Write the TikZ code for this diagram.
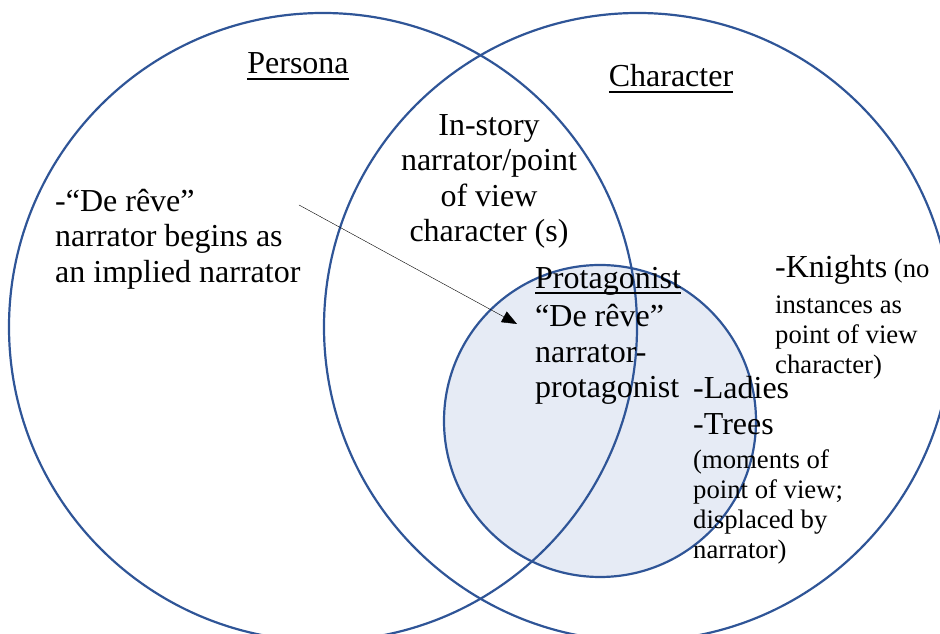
\documentclass[tikz,border=0pt]{standalone}
\usepackage{fontspec}
\setmainfont{Liberation Serif}
\usetikzlibrary{arrows.meta}
\definecolor{vennblue}{HTML}{2F5597}
\definecolor{vennfill}{HTML}{E6EBF5}
\newcommand{\bigtxt}{\fontsize{32}{35.5}\selectfont}
\newcommand{\smalltxt}{\fontsize{26.7}{30}\selectfont}
\newcommand{\thickul}[1]{\setbox0=\hbox{#1}\rlap{\rule[-6pt]{\wd0}{2pt}}\box0}

\begin{document}
\begin{tikzpicture}[x=1pt,y=1pt,
  ring/.style={draw=vennblue, line width=2.2pt},
  txt/.style={inner sep=0pt, align=left, font=\bigtxt},
  note/.style={inner sep=0pt, align=left, font=\smalltxt}]
\useasboundingbox (0,0) rectangle (940,634);
\clip (0,0) rectangle (940,634);
% the three circles
\filldraw[ring, fill=vennfill] (600,213) circle (156);
\draw[ring] (323,307) circle (314);
\draw[ring] (638,307) circle (314);
% headings
\node[txt, anchor=base] (persona) at (298,560) {\thickul{Persona}};
\node[txt, anchor=base] (character) at (671,547) {\thickul{Character}};
% texts
\node[txt, anchor=north west] (implied) at (55,445)
  {-“De rêve”\\narrator begins as\\an implied narrator};
\node[txt, anchor=north, align=center] (instory) at (489,520)
  {In-story\\narrator/point\\of view\\character (s)};
\node[txt, anchor=north west] (protag) at (535,367)
  {\thickul{Protagonist}\\[3pt]“De rêve”\\narrator-\\protagonist};
\node[note, anchor=north west] (knights) at (775,379)
  {{\bigtxt -Knights} (no\\[6pt]instances as\\point of view\\character)};
\node[note, anchor=north west] (ladies) at (693,258)
  {{\bigtxt -Ladies}\\[6pt]{\bigtxt -Trees}\\[4pt](moments of\\point of view;\\displaced by\\narrator)};
% arrow
\coordinate (arrS) at (299,429);
\coordinate (arrE) at (517,310);
\draw[-{Triangle[length=15pt,width=12pt]}] (arrS) -- (arrE);
\end{tikzpicture}
\end{document}
